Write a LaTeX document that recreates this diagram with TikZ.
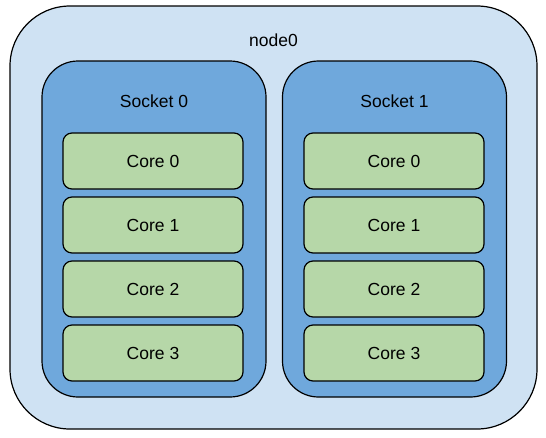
\documentclass[tikz,border=0pt]{standalone}
\usepackage{fontspec}
\setmainfont{Liberation Sans}
\usetikzlibrary{backgrounds}

\begin{document}
\begin{tikzpicture}
          [x=1pt, y=-1pt, every node/.style = {font = \fontsize{17.5}{20}\selectfont},
           box/.style = {draw, line width=1.2pt, rounded corners=#1, inner sep=0pt}]

% Define box colors
\colorlet{nodecolor}{rgb,255:red,207;green,226;blue,243}
\colorlet{socketcolor}{rgb,255:red,111;green,168;blue,220}
\colorlet{corecolor}{rgb,255:red,182;green,215;blue,168}

\useasboundingbox (0,0) rectangle (546,437);

% node
  \node [box=60pt, fill=nodecolor, minimum width=527pt, minimum height=423pt](node0) at (273.5,217.5){};
  \node (node0label) at (273.5,40){node0};

% sockets
  \node [box=36pt, fill=socketcolor, minimum width=224pt, minimum height=336pt](socket0) at (154,229){};
  \node (socket0label) at (154,101){Socket 0};
  \node [box=36pt, fill=socketcolor, minimum width=224pt, minimum height=336pt](socket1) at (394.5,229){};
  \node (socket1label) at (394.5,101){Socket 1};

% cores
  \foreach \s/\x in {0/153, 1/394}
    \foreach \c/\y in {0/161, 1/225, 2/289, 3/353}
      \node [box=9pt, fill=corecolor, minimum width=180pt, minimum height=56pt](core\s\c) at (\x,\y){Core \c};

\end{tikzpicture}
\end{document}
